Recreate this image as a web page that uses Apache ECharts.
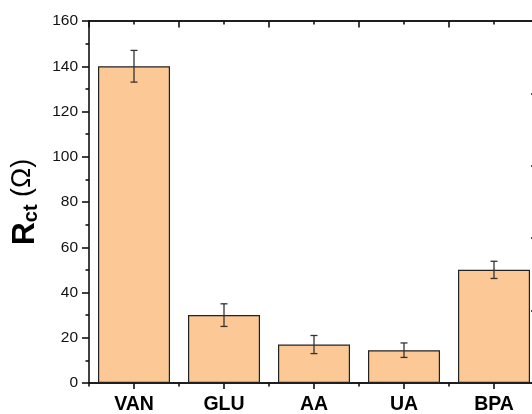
<!DOCTYPE html>
<html>
<head>
<meta charset="utf-8">
<script src="https://cdn.jsdelivr.net/npm/echarts@6/dist/echarts.min.js"></script>
<style>html,body{margin:0;padding:0;background:#fff}#c{width:532px;height:414px}</style>
</head>
<body>
<div id="c"></div>
<script>
var categories = ['VAN', 'GLU', 'AA', 'UA', 'BPA'];
var values = [140, 30, 17, 14.5, 50];
var errors = [7, 5, 4, 3.2, 3.8];
var yMin = 0, yMax = 160, yInterval = 20;
var rightInterval = 32;

var FONT = 'Arial, "Liberation Sans", sans-serif';
var chart = echarts.init(document.getElementById('c'), null, {renderer: 'canvas'});

var axisLine = {show: true, lineStyle: {color: '#111', width: 1.6}};
var errData = categories.map(function (c, i) { return [i, values[i] - errors[i], values[i] + errors[i]]; });

chart.setOption({
  animation: false,
  backgroundColor: '#fff',
  grid: {left: 89, top: 21, width: 450, height: 362, containLabel: false, outerBoundsMode: 'none'},
  xAxis: [
    {type: 'category', data: categories, position: 'bottom',
     axisLine: axisLine,
     axisTick: {show: true, alignWithLabel: true, length: 6, lineStyle: {color: '#111', width: 1.6}},
     axisLabel: {fontFamily: FONT, fontWeight: 'bold', fontSize: 19.5, color: '#000', margin: 12},
     splitLine: {show: false}},
    {type: 'category', data: categories, position: 'bottom',
     axisLine: axisLine,
     axisTick: {show: true, alignWithLabel: false, length: 3.5, lineStyle: {color: '#111', width: 1.6}},
     axisLabel: {show: false}, splitLine: {show: false}},
    {type: 'category', data: categories, position: 'top',
     axisLine: axisLine,
     axisTick: {show: true, inside: true, alignWithLabel: true, length: 3.5, lineStyle: {color: '#111', width: 1.6}},
     axisLabel: {show: false}, splitLine: {show: false}},
    {type: 'category', data: categories, position: 'top',
     axisLine: axisLine,
     axisTick: {show: true, inside: true, alignWithLabel: false, length: 6.5, lineStyle: {color: '#111', width: 1.6}},
     axisLabel: {show: false}, splitLine: {show: false}}
  ],
  yAxis: [
    {type: 'value', min: yMin, max: yMax, interval: yInterval, position: 'left',
     axisLine: axisLine,
     axisTick: {show: true, length: 7, lineStyle: {color: '#111', width: 1.6}},
     minorTick: {show: true, splitNumber: 2, length: 3.5, lineStyle: {color: '#111', width: 1.6}},
     axisLabel: {fontFamily: FONT, fontSize: 15.5, color: '#111', margin: 11},
     splitLine: {show: false},
     name: '{r|R}{s|ct}{p| (Ω)}',
     nameLocation: 'middle', nameRotate: 90, nameGap: 47,
     nameTextStyle: {
       fontFamily: FONT,
       rich: {
         r: {fontFamily: FONT, fontWeight: 'bold', fontSize: 32, lineHeight: 32, verticalAlign: 'top', color: '#000'},
         s: {fontFamily: FONT, fontWeight: 'bold', fontSize: 20, lineHeight: 20, verticalAlign: 'bottom', color: '#000'},
         p: {fontFamily: FONT, fontSize: 27, lineHeight: 32, verticalAlign: 'top', color: '#000'}
       }
     }},
    {type: 'value', min: yMin, max: yMax, interval: rightInterval, position: 'right',
     axisLine: axisLine,
     axisTick: {show: true, inside: true, length: 8, lineStyle: {color: '#111', width: 1.6}},
     axisLabel: {show: false}, splitLine: {show: false}}
  ],
  series: [
    {type: 'bar', xAxisIndex: 0, yAxisIndex: 0, data: values, barWidth: '80%',
     itemStyle: {color: '#FCC896', borderColor: '#222', borderWidth: 1.2}},
    {type: 'custom', xAxisIndex: 0, yAxisIndex: 0, data: errData, z: 10,
     renderItem: function (params, api) {
       var x = api.value(0);
       var lo = api.coord([x, api.value(1)]);
       var hi = api.coord([x, api.value(2)]);
       var w = 3.5;
       var st = {stroke: '#333', lineWidth: 1.3, fill: null};
       return {type: 'group', children: [
         {type: 'line', shape: {x1: hi[0], y1: hi[1], x2: lo[0], y2: lo[1]}, style: st},
         {type: 'line', shape: {x1: hi[0] - w, y1: hi[1], x2: hi[0] + w, y2: hi[1]}, style: st},
         {type: 'line', shape: {x1: lo[0] - w, y1: lo[1], x2: lo[0] + w, y2: lo[1]}, style: st}
       ]};
     }}
  ]
});
</script>
</body>
</html>
